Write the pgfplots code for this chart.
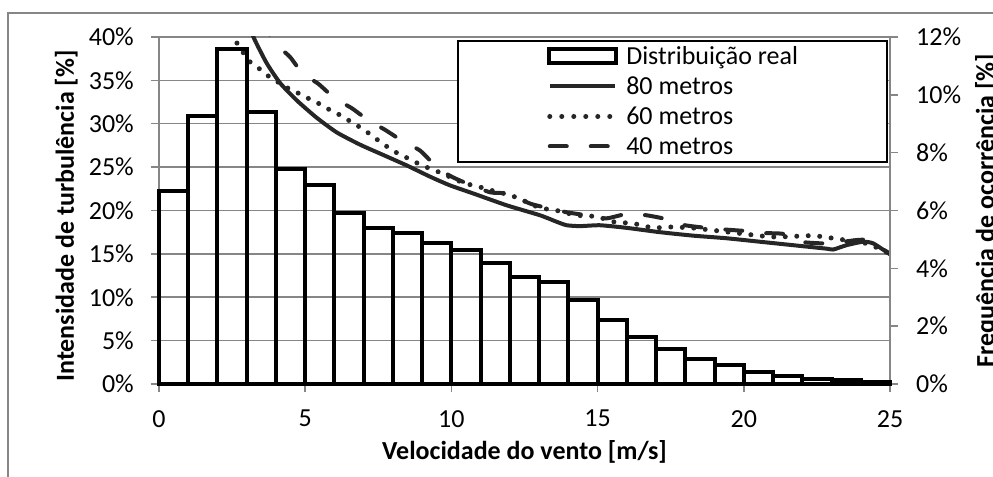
\documentclass[border=0pt]{standalone}
\usepackage{pgfplots}
\pgfplotsset{compat=1.18}
\usepackage{pgfplotstable}
\usepackage{fontspec}
\setmainfont{Carlito}
\definecolor{gridgray}{RGB}{134,134,134}
\definecolor{curve}{RGB}{38,38,38}
\pgfplotsset{
  legline/.style={legend image code/.code={\draw[##1] (2bp,0bp) -- (67bp,0bp);}},
  legbar/.style={legend image code/.code={\draw[black, line width=4bp] (1.5bp,-7bp) rectangle (68.5bp,7bp);}},
}

\pgfplotstableread{
x f
0 6.69
1 9.28
2 11.6
3 9.40
4 7.45
5 6.87
6 5.92
7 5.38
8 5.23
9 4.87
10 4.62
11 4.18
12 3.71
13 3.53
14 2.90
15 2.20
16 1.63
17 1.20
18 0.86
19 0.66
20 0.41
21 0.28
22 0.18
23 0.14
24 0.08
25 0.08
}\freq

\pgfplotstableread{
x v
3.0 42.5
3.23 40.0
3.68 37.0
4.14 34.7
4.71 32.7
5.39 30.7
6.08 29.0
6.87 27.6
7.67 26.4
8.47 25.2
9.27 23.9
9.95 22.9
10.75 21.96
11.89 20.6
13.03 19.45
13.6 18.7
13.94 18.3
14.4 18.2
15.08 18.3
15.99 18.0
17.13 17.5
18.27 17.1
19.41 16.8
20.55 16.4
21.69 16.0
22.83 15.6
23.06 15.5
23.51 16.0
24.08 16.4
24.43 16.2
25.0 14.95
}\msoitenta

\pgfplotstableread{
x v
2.5 40.5
2.63 39.5
2.86 38.3
3.09 37.2
3.41 36.4
3.74 35.5
4.07 34.8
4.41 34.1
4.78 33.5
5.12 32.9
5.48 32.3
5.84 31.6
6.19 31.0
6.53 30.3
6.87 29.6
7.22 28.8
7.53 28.0
7.87 27.2
8.21 26.5
8.59 25.9
8.93 25.3
9.29 24.8
9.67 24.3
10.4 23.2
10.98 22.7
11.6 22.1
12.0 21.8
12.63 20.9
13.03 20.3
13.6 20.0
14.28 19.45
14.97 19.3
15.54 18.7
16.22 18.5
16.9 18.0
17.48 18.1
18.2 18.0
19.0 17.7
19.76 17.4
21.0 16.95
22.26 17.1
22.65 17.0
23.06 16.8
23.46 16.6
23.97 16.4
24.43 15.9
25.0 15.0
}\mssessenta

\pgfplotstableread{
x v
3.5 42.0
3.97 39.3
4.48 37.7
4.91 35.8
5.45 34.6
6.02 32.9
6.59 31.8
7.16 30.4
7.73 29.3
8.33 28.0
8.93 26.9
9.44 25.2
9.95 24.0
10.47 23.2
11.32 22.1
11.89 21.95
12.69 20.8
13.14 20.4
13.94 19.8
14.62 19.45
15.31 19.1
15.99 19.6
16.67 19.45
17.36 19.0
17.99 18.3
19.0 17.9
20.2 17.6
20.66 17.4
21.35 17.3
21.92 16.4
22.8 16.2
23.4 16.4
24.2 16.6
25.0 15.0
}\msquarenta

\begin{document}
\begin{tikzpicture}[font=\fontsize{26bp}{31bp}\selectfont]
\useasboundingbox (0,0) rectangle (993bp,477bp);
\draw[gridgray, line width=1.5bp] (8bp,-5bp) -- (8bp,464bp) -- (1000bp,464bp);

\begin{axis}[
  at={(159bp,93bp)}, anchor=south west,
  scale only axis, width=731bp, height=347bp,
  xmin=0, xmax=25, ymin=0, ymax=40,
  axis x line*=bottom, axis y line*=left,
  axis line style={gridgray, line width=1.5bp},
  xtick={0,5,10,15,20,25},
  ytick={0,5,10,15,20,25,30,35,40},
  ymajorgrids, major grid style={gridgray, line width=1.5bp},
  tick style={gridgray, line width=1.5bp},
  major tick length=8bp, tick align=outside,
  /pgf/number format/assume math mode=true,
  xticklabel={\pgfmathprintnumber{\tick}},
  yticklabel={\pgfmathprintnumber{\tick}\%},
  ticklabel style={font=\fontsize{26bp}{31bp}\selectfont, inner sep=0pt},
  xticklabel style={yshift=-18bp},
  yticklabel style={xshift=-17bp},
  xlabel={Velocidade do vento [m/s]},
  ylabel={Intensidade de turbulência [\%]},
  label style={font=\fontsize{26bp}{31bp}\selectfont\bfseries, inner sep=0pt},
  xlabel style={at={(axis description cs:0.5,-0.219)}, anchor=base},
  ylabel style={at={(axis description cs:-0.1163,0.484)}, anchor=base},
]
\addplot[curve, line width=4bp, line join=round, smooth, tension=0.35] table[x=x,y=v]{\msoitenta};
\addplot[curve, line width=5bp, line cap=round, smooth, tension=0.35, dash pattern=on 0bp off 11.5bp] table[x=x,y=v]{\mssessenta};
\addplot[curve, line width=4bp, line cap=round, smooth, tension=0.35, dash pattern=on 17bp off 24bp] table[x=x,y=v]{\msquarenta};
\end{axis}

\begin{axis}[
  at={(159bp,93bp)}, anchor=south west,
  scale only axis, width=731bp, height=347bp,
  xmin=0, xmax=25, ymin=0, ymax=12,
  ybar interval,
  axis y line*=right, axis x line=none,
  axis line style={gridgray, line width=1.5bp},
  ytick={0,2,4,6,8,10,12},
  tick style={gridgray, line width=1.5bp},
  major tick length=8bp, tick align=outside,
  /pgf/number format/assume math mode=true,
  yticklabel={\pgfmathprintnumber{\tick}\%},
  ticklabel style={font=\fontsize{26bp}{31bp}\selectfont, inner sep=0pt},
  yticklabel style={xshift=18bp},
  ylabel={Frequência de ocorrência [\%]},
  label style={font=\fontsize{26bp}{31bp}\selectfont\bfseries, inner sep=0pt},
  ylabel style={at={(axis description cs:1.1423,0.5)}, anchor=base},
  clip=false,
  legend style={at={(axis description cs:0.9973,0.9914)}, anchor=north east,
    draw=black, line width=2bp, fill=white, inner xsep=89bp, inner ysep=0.5bp,
    row sep=0pt, font=\fontsize{26bp}{31bp}\selectfont,
    nodes={inner sep=0pt, text height=23bp, text depth=7bp},
    /tikz/every odd column/.append style={column sep=8bp}},
  legend cell align=left,
]
\addplot[draw=black, line width=4bp, fill=none, legbar]
  table[x=x,y=f]{\freq};
\addlegendentry{Distribuição real}
\addlegendimage{curve, line width=4bp, legline}
\addlegendentry{80 metros}
\addlegendimage{curve, line width=5bp, line cap=round, dash pattern=on 0bp off 12bp, legline}
\addlegendentry{60 metros}
\addlegendimage{curve, line width=4bp, line cap=round, dash pattern=on 17bp off 24bp, legline}
\addlegendentry{40 metros}
\end{axis}
\end{tikzpicture}
\end{document}
